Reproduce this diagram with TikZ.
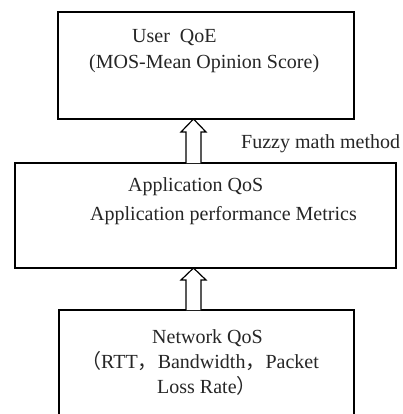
\documentclass[tikz,border=0pt]{standalone}
\usepackage{fontspec}
\setmainfont{Liberation Serif}
\newfontfamily\cjk{Noto Sans CJK SC}
\usetikzlibrary{calc}
\tikzset{
  box/.style={draw=black, line width=1.7pt, fill=white, inner sep=0pt, outer sep=0pt},
  txt/.style={anchor=base west, inner sep=0pt, font=\fontsize{20}{24}\selectfont, text=black!85},
  harrow/.style={draw=black, line width=1.2pt, fill=white, line join=miter}
}
\begin{document}
\begin{tikzpicture}[x=1pt,y=-1pt]
\useasboundingbox (0,0) rectangle (403,414);
\clip (0,0) rectangle (403,414);
\fill[white] (0,0) rectangle (403,414);
% boxes
\node[box, minimum width=296pt, minimum height=107pt] (user) at (206,65.5) {};
\node[box, minimum width=381pt, minimum height=105pt] (app) at (205.5,215.5) {};
\node[box, minimum width=295pt, minimum height=130pt] (net) at (206.5,375) {};
% texts
\node[txt] (t1) at (132,43) {User\ \ QoE};
\node[txt] (t2) at (89,69) {(MOS-Mean Opinion Score)};
\node[txt] (t3) at (241,148) {Fuzzy math method};
\node[txt] (t4) at (128,191) {Application QoS};
\node[txt] (t5) at (90,220) {Application performance Metrics};
\node[txt] (t6) at (152,343) {Network QoS};
\node[txt] (t7) at (81,368) {{\cjk （}RTT{\cjk ，}Bandwidth{\cjk ，}Packet};
\node[txt] (t8) at (157,393) {Loss Rate{\cjk ）}};
% hollow arrows
\coordinate (ax) at (193.5,0);
\draw[harrow] ($(ax |- app.north)+(-7.5,0)$) -- ($(ax |- user.south)+(-7.5,13)$)
  -- ($(ax |- user.south)+(-12.5,13)$) -- (ax |- user.south)
  -- ($(ax |- user.south)+(12.5,13)$) -- ($(ax |- user.south)+(7.5,13)$)
  -- ($(ax |- app.north)+(7.5,0)$);
\draw[harrow] ($(ax |- net.north)+(-7.5,0)$) -- ($(ax |- app.south)+(-7.5,12)$)
  -- ($(ax |- app.south)+(-12.5,12)$) -- (ax |- app.south)
  -- ($(ax |- app.south)+(12.5,12)$) -- ($(ax |- app.south)+(7.5,12)$)
  -- ($(ax |- net.north)+(7.5,0)$);
\end{tikzpicture}
\end{document}
